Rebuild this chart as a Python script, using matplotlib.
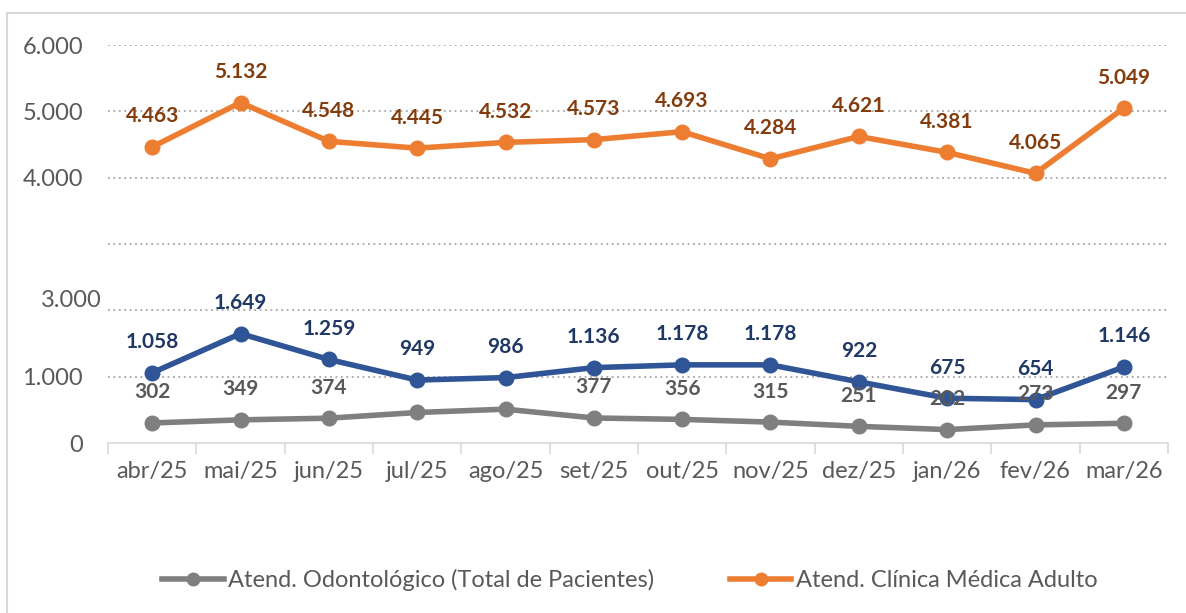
import numpy as np
import matplotlib.pyplot as plt
from matplotlib.lines import Line2D

meses = ['abr/25', 'mai/25', 'jun/25', 'jul/25', 'ago/25', 'set/25',
         'out/25', 'nov/25', 'dez/25', 'jan/26', 'fev/26', 'mar/26']
clinica = [4463, 5132, 4548, 4445, 4532, 4573, 4693, 4284, 4621, 4381, 4065, 5049]
serie_azul = [1058, 1649, 1259, 949, 986, 1136, 1178, 1178, 922, 675, 654, 1146]
odonto = [302, 349, 374, 460, 510, 377, 356, 315, 251, 202, 273, 297]
odonto_rotulo = [True, True, True, False, False, True, True, True, True, True, True, True]

y_ticks = [0, 1000, 2000, 3000, 4000, 5000, 6000]
y_labels = ['0', '1.000', '', '', '4.000', '5.000', '6.000']

def fmt(v):
    return '{:,}'.format(v).replace(',', '.')

plt.rcParams['font.family'] = ['Lato', 'DejaVu Sans']

fig = plt.figure(figsize=(11.86, 6.13), dpi=100)
ax = fig.add_axes([108/1186, 1-443/613, 1060/1186, (443-45)/613])

x = np.arange(len(meses))
laranja = '#ED7D31'
azul = '#2F5597'
cinza = '#7F7F7F'

ax.plot(x, odonto, color=cinza, lw=4, marker='o', ms=10.5, zorder=3)
ax.plot(x, serie_azul, color=azul, lw=4, marker='o', ms=10.5, zorder=4)
ax.plot(x, clinica, color=laranja, lw=4, marker='o', ms=10.5, zorder=4)

for i in range(len(meses)):
    ax.annotate(fmt(clinica[i]), (x[i], clinica[i]), xytext=(0, 22), textcoords='offset points',
                ha='center', va='center', fontsize=15, fontweight='bold', color='#843C0C', zorder=6)
    ax.annotate(fmt(serie_azul[i]), (x[i], serie_azul[i]), xytext=(0, 22), textcoords='offset points',
                ha='center', va='center', fontsize=15, fontweight='bold', color='#203864', zorder=6)
    if odonto_rotulo[i]:
        ax.annotate(fmt(odonto[i]), (x[i], odonto[i]), xytext=(0, 22), textcoords='offset points',
                    ha='center', va='center', fontsize=15, fontweight='bold', color='#595959', zorder=5)

ax.set_xlim(-0.5, len(meses) - 0.5)
ax.set_ylim(0, 6000)
ax.set_yticks(y_ticks)
ax.set_yticklabels(y_labels)
ax.set_xticks(x)
ax.set_xticklabels(meses)
ax.set_xticks(np.arange(-0.5, len(meses)), minor=True)
ax.tick_params(axis='x', which='major', length=0, pad=13, labelsize=17, labelcolor='#595959')
ax.tick_params(axis='x', which='minor', length=8, color='#D9D9D9', width=1.2)
ax.tick_params(axis='y', length=0, pad=18, labelsize=17, labelcolor='#595959')
ax.text(-0.57, 2150, '3.000', ha='right', va='center', fontsize=17, color='#595959',
        transform=ax.transData, clip_on=False)

for g in y_ticks[1:]:
    ax.axhline(g, color='#A6A6A6', lw=1.3, ls=(0, (1, 2)), zorder=1)
for s in ['left', 'right', 'top']:
    ax.spines[s].set_visible(False)
ax.spines['bottom'].set_color('#D9D9D9')
ax.spines['bottom'].set_linewidth(1.2)

handles = [Line2D([0], [0], color=cinza, lw=4, marker='o', ms=9),
           Line2D([0], [0], color=laranja, lw=4, marker='o', ms=9)]
fig.legend(handles, ['Atend. Odontológico (Total de Pacientes)', 'Atend. Clínica Médica Adulto'],
           loc='center', bbox_to_anchor=(630/1186, 1-580/613), ncol=2, frameon=False,
           fontsize=17, labelcolor='#595959', handlelength=2.6, columnspacing=3.2, handletextpad=0.2)

fig.add_artist(Line2D([7/1186, 7/1186], [0, 1-13/613], color='#D9D9D9', lw=1.5))
fig.add_artist(Line2D([7/1186, 1], [1-13/613, 1-13/613], color='#D9D9D9', lw=1.5))

fig.savefig('out.png', dpi=100)
